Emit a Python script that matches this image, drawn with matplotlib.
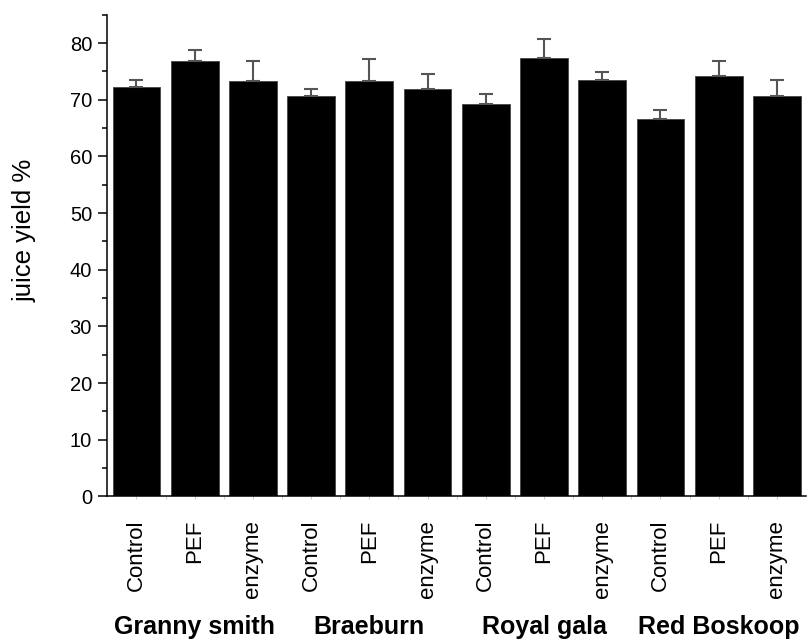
import numpy as np
import matplotlib
matplotlib.use("Agg")
import matplotlib.pyplot as plt
from matplotlib.ticker import MultipleLocator

plt.rcParams['font.family'] = ['Liberation Sans', 'DejaVu Sans']

varieties = ["Granny smith", "Braeburn", "Royal gala", "Red Boskoop"]
treatments = ["Control", "PEF", "enzyme"]

# juice yield (%) per variety, in treatment order
yield_mean = [
    [72.2, 76.9, 73.3],
    [70.6, 73.3, 71.9],
    [69.3, 77.4, 73.5],
    [66.6, 74.2, 70.7],
]
yield_err = [
    [1.3, 1.9, 3.5],
    [1.3, 3.9, 2.6],
    [1.7, 3.3, 1.4],
    [1.6, 2.7, 2.8],
]

means = np.array(yield_mean).ravel()
errs = np.array(yield_err).ravel()
labels = treatments * len(varieties)
x = np.arange(len(means))

fig = plt.figure(figsize=(8.07, 6.41), dpi=100)
ax = fig.add_axes([0.133, 0.2257, 0.8658, 0.7513])

ax.bar(x, means, width=0.82, color="black", edgecolor="#444444", linewidth=0.6)
ax.errorbar(x, means, yerr=[np.zeros_like(errs), errs], fmt="none",
            ecolor="#555555", elinewidth=1.5, capsize=5, capthick=1.5)

ax.set_xlim(-0.5, len(means) - 0.5)
ax.set_ylim(0, 85)
ax.set_yticks(np.arange(0, 81, 10))
ax.yaxis.set_minor_locator(MultipleLocator(5))

for side in ("top", "right"):
    ax.spines[side].set_visible(False)
for side in ("left", "bottom"):
    ax.spines[side].set_linewidth(1.1)

ax.tick_params(axis="y", which="major", length=6.5, width=1.1, labelsize=14.5, pad=4.5)
ax.tick_params(axis="y", which="minor", length=3.4, width=1.1)
ax.set_xticks(x)
ax.set_xticks(x[:-1] + 0.5, minor=True)
ax.set_xticklabels(labels, rotation=90, fontsize=16)
ax.tick_params(axis="x", which="major", length=2, width=0.6, color="#bbbbbb", pad=15)
ax.tick_params(axis="x", which="minor", length=2, width=0.6, color="#bbbbbb")

ax.set_ylabel("juice yield %", fontsize=18.5, va="center")
ax.yaxis.set_label_coords(-0.1185, 0.553)

for i, name in enumerate(varieties):
    center = i * len(treatments) + 1
    ax.text(center, -0.286, name, transform=ax.get_xaxis_transform(),
            ha="center", va="baseline", fontsize=18, fontweight="bold")

fig.savefig("out.png", dpi=100)
